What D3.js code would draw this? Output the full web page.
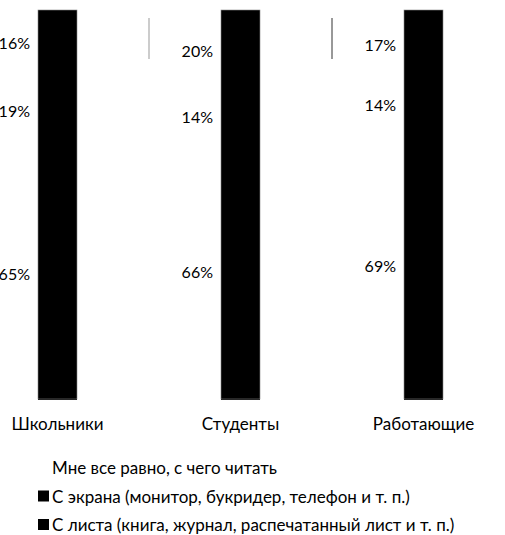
<!DOCTYPE html>
<html>
<head>
<meta charset="utf-8">
<script src="https://cdn.jsdelivr.net/npm/d3@7"></script>
<style>
  body { margin: 0; background: #fff; }
  svg { display: block; }
  text { font-family: Lato, "Open Sans", sans-serif; fill: #000; }
</style>
</head>
<body>
<div id="chart"></div>
<script>
// groups on the x axis
const categories = ["Школьники", "Студенты", "Работающие"];
// series, top to bottom in the stack
const seriesNames = [
  "Мне все равно, с чего читать",
  "С экрана (монитор, букридер, телефон и т. п.)",
  "С листа (книга, журнал, распечатанный лист и т. п.)"
];
const indifferent = [16, 20, 17];
const screen = [19, 14, 14];
const paper = [65, 66, 69];

const width = 505, height = 535;

const rows = categories.map((c, i) => ({
  cat: c,
  s0: indifferent[i],
  s1: screen[i],
  s2: paper[i]
}));

const svg = d3.select("#chart").append("svg")
  .attr("width", width)
  .attr("height", height);

const x = d3.scalePoint()
  .domain(categories)
  .range([57.5, 423.5]);
const barW = 39;

// 0% at the top so the first series is drawn on top
const y = d3.scaleLinear().domain([0, 100]).range([10, 399]);

const stacked = d3.stack().keys(["s0", "s1", "s2"])(rows);
// flatten to one list of segments
const seg = stacked.flatMap(s => s.map(d => ({
  cat: d.data.cat, lo: d[0], hi: d[1], v: d.data[s.key]
})));

// separator stubs between groups
svg.selectAll(".sep")
  .data(categories.slice(0, -1))
  .join("line")
  .attr("class", "sep")
  .attr("x1", d => x(d) + x.step() / 2)
  .attr("x2", d => x(d) + x.step() / 2)
  .attr("y1", 18)
  .attr("y2", 59)
  .attr("stroke", (d, i) => i === 0 ? "#999" : "#333")
  .attr("stroke-width", 1);

svg.selectAll(".seg")
  .data(seg)
  .join("rect")
  .attr("class", "seg")
  .attr("x", d => x(d.cat) - barW / 2)
  .attr("y", d => y(d.lo))
  .attr("width", barW)
  .attr("height", d => y(d.hi) - y(d.lo) + 0.5)
  .attr("fill", "#000")
  .attr("shape-rendering", "crispEdges");

// bar outline
svg.selectAll(".outline")
  .data(categories)
  .join("rect")
  .attr("class", "outline")
  .attr("x", d => x(d) - barW / 2)
  .attr("y", y(0))
  .attr("width", barW)
  .attr("height", y(100) - y(0))
  .attr("fill", "none")
  .attr("stroke", "#888")
  .attr("stroke-width", 0.6);

svg.selectAll(".lbl")
  .data(seg)
  .join("text")
  .attr("class", "lbl")
  .attr("x", d => x(d.cat) - barW / 2 - 8)
  .attr("y", d => y((d.lo + d.hi) / 2) + 2)
  .attr("dy", "0.35em")
  .attr("text-anchor", "end")
  .attr("font-size", 16)
  .text(d => d.v + "%");

svg.selectAll(".cat")
  .data(categories)
  .join("text")
  .attr("class", "cat")
  .attr("x", d => x(d))
  .attr("y", 430)
  .attr("text-anchor", "middle")
  .attr("font-size", 17)
  .text(d => d);

const legendColors = ["#fff", "#000", "#000"];
const lg = svg.selectAll(".leg")
  .data(seriesNames)
  .join("g")
  .attr("class", "leg")
  .attr("transform", (d, i) => `translate(38, ${474 + i * 28.5})`);
lg.append("rect")
  .attr("x", 0).attr("y", -12)
  .attr("width", 11).attr("height", 11)
  .attr("fill", (d, i) => legendColors[i]);
lg.append("text")
  .attr("x", 14)
  .attr("font-size", 17)
  .text(d => d);
</script>
</body>
</html>
